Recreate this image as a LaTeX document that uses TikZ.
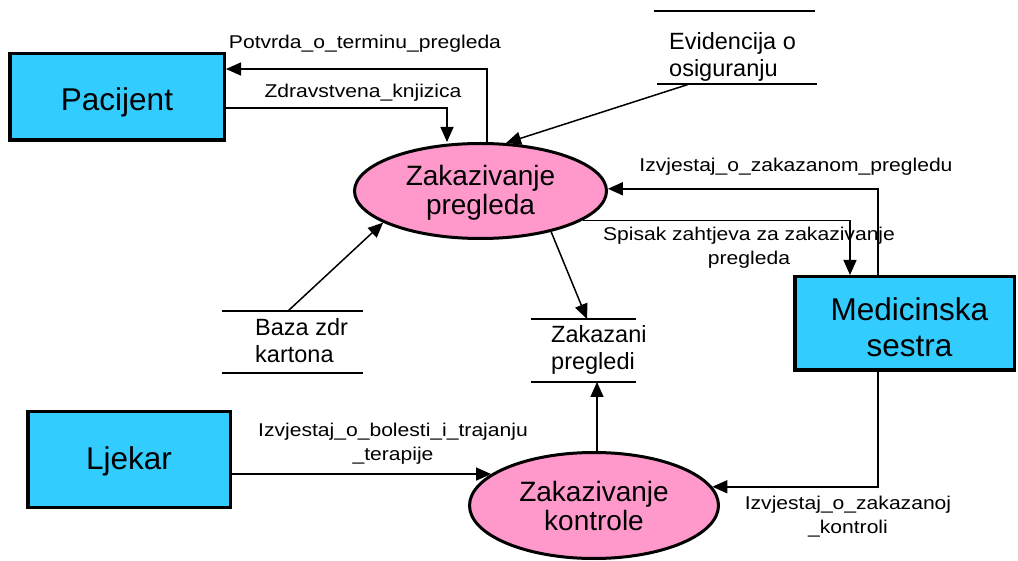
\documentclass[tikz,border=0pt]{standalone}
\usepackage{fontspec}
\setmainfont{Liberation Sans}
\newfontfamily\labfont[FakeStretch=1.14]{Liberation Sans}
\usetikzlibrary{arrows.meta,shapes.geometric,calc}
\definecolor{entblue}{RGB}{51,204,255}
\definecolor{procpink}{RGB}{255,153,204}
\newcommand\lowertext[2]{\raisebox{-#1}[\height][\depth]{#2}}
\begin{document}
\begin{tikzpicture}[x=1pt,y=-1pt,
  entity/.style={draw, line width=3.5pt, fill=entblue, rectangle, inner sep=0pt,
    font=\fontsize{31.5}{36}\selectfont, align=center},
  process/.style={draw, line width=3pt, fill=procpink, ellipse, inner sep=0pt,
    font=\fontsize{28}{29}\selectfont, align=center},
  storetext/.style={inner sep=0pt, font=\fontsize{23.5}{27.5}\selectfont, align=left, anchor=west},
  storeline/.style={line width=1.5pt},
  flow/.style={line width=1.5pt, -{Triangle[length=15pt,width=13pt]}},
  flowlabel/.style={font=\labfont\fontsize{18.5}{24}\selectfont, align=center, inner sep=0pt}
]
\useasboundingbox (0,0) rectangle (1018,561);

% entities
\node[entity, minimum width=214.5, minimum height=86.5] (pac) at (117,97) {\lowertext{5pt}{Pacijent}};
\node[entity, minimum width=219.5, minimum height=93.5] (med) at (904.5,323.5)
  {\lowertext{4pt}{\hspace*{10pt}Medicinska}\\\lowertext{4pt}{\hspace*{10pt}sestra}};
\node[entity, minimum width=202.5, minimum height=95.5] (lje) at (129,459.5) {\lowertext{2pt}{Ljekar}};

% processes
\node[process, minimum width=252, minimum height=95] (zp) at (480.5,191) {\lowertext{2pt}{Zakazivanje}\\\lowertext{2pt}{pregleda}};
\node[process, minimum width=249, minimum height=106] (zk) at (594,505.5) {Zakazivanje\\kontrole};

% data stores
\node[storetext] (ev) at (669,57) {Evidencija o\\osiguranju};
\draw[storeline] (654,11) -- (815,11);
\draw[storeline] (657,84) -- (817,84);
\coordinate (evb) at (688,84.5);

\node[storetext] (bz) at (255,340.5) {Baza zdr\\kartona};
\draw[storeline] (222,311) -- (363,311);
\draw[storeline] (222,373) -- (363,373);
\coordinate (bzt) at (288,311);

\node[storetext] (zs) at (551,350) {Zakazani\\pregledi};
\draw[storeline] (531,319) -- (636,319);
\draw[storeline] (531,382) -- (636,382);
\coordinate (zst) at (587,319);
\coordinate (zsb) at (597,382);

% flows
\draw[flow] ([xshift=6.5pt]zp.north) |- (pac.east |- 0,69);
\draw[flow] (pac.east |- 0,108) -| (zp.north -| 447,0);
\draw[flow] (evb) -- (zp.62);
\draw[flow] (med.north -| 878,0) |- (zp.1.5);
\draw[flow] (zp.-16) -| (med.north -| 850,0);
\draw[flow] (bzt) -- (zp.-162);
\draw[flow] (zp.-30) -- (zst);
\draw[flow] (zk.north -| 597,0) -- (zsb);
\draw[flow] (lje.east |- zk.163) -- (zk.163);
\draw[flow] (med.south -| 878,0) |- (zk.9);

% flow labels
\node[flowlabel] (lpot) at (365,44) {Potvrda\_o\_terminu\_pregleda};
\node[flowlabel] (lzdr) at (363,93) {Zdravstvena\_knjizica};
\node[flowlabel] (lizp) at (796,167) {Izvjestaj\_o\_zakazanom\_pregledu};
\node[flowlabel] (lspi) at (749,248) {Spisak zahtjeva za zakazivanje\\pregleda};
\node[flowlabel] (lbol) at (393,444) {Izvjestaj\_o\_bolesti\_i\_trajanju\\\_terapije};
\node[flowlabel] (lizk) at (848,516.5) {Izvjestaj\_o\_zakazanoj\\\_kontroli};
\end{tikzpicture}
\end{document}
